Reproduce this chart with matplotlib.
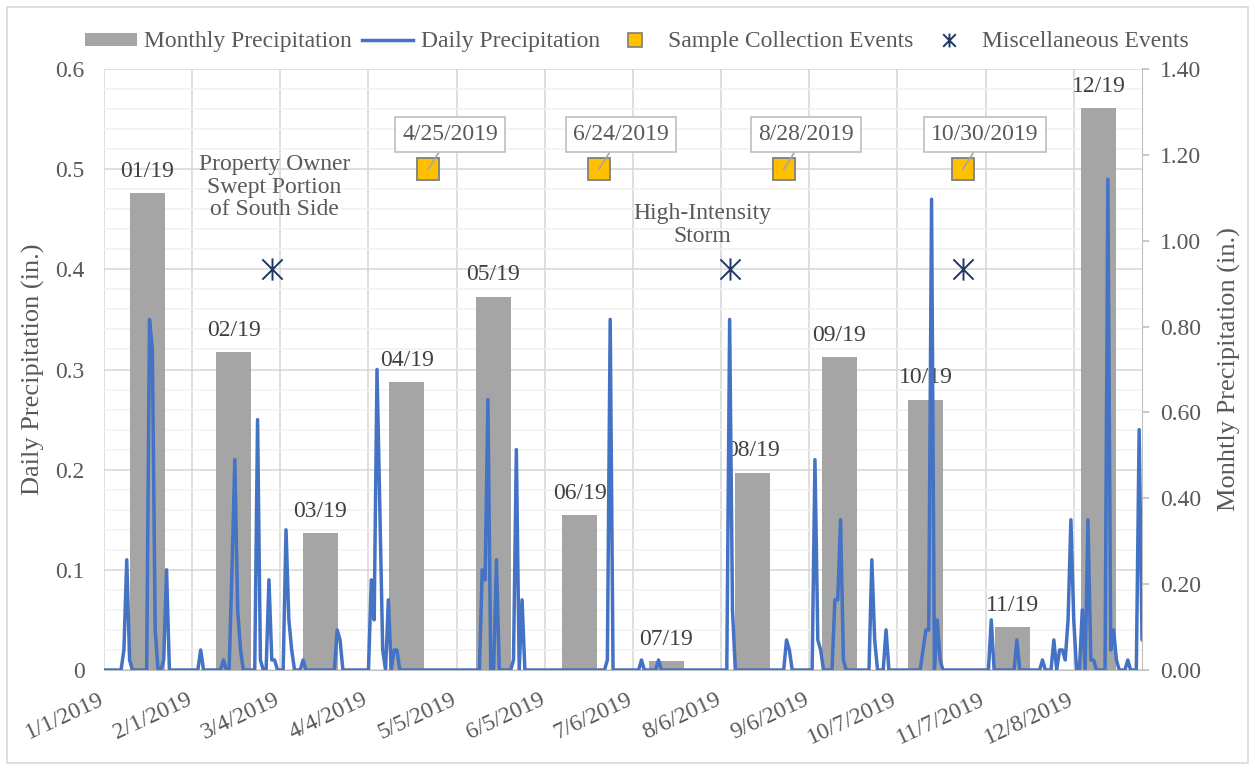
import matplotlib
matplotlib.use("Agg")
import matplotlib.pyplot as plt
from matplotlib.lines import Line2D
from matplotlib.patches import Patch, Rectangle
from matplotlib.path import Path
from matplotlib.transforms import ScaledTranslation
import numpy as np
import pandas as pd

plt.rcParams["font.family"] = ["Liberation Serif", "DejaVu Serif"]
plt.rcParams["font.size"] = 17

# monthly totals (right axis)
months = ["01/19", "02/19", "03/19", "04/19", "05/19", "06/19",
          "07/19", "08/19", "09/19", "10/19", "11/19", "12/19"]
monthly_in = [1.11, 0.74, 0.32, 0.67, 0.87, 0.36, 0.02, 0.46, 0.73, 0.63, 0.10, 1.31]

# days with rain; every other day of the record is 0.00
rain_dates = [
    "2019-01-08", "2019-01-09", "2019-01-10", "2019-01-17", "2019-01-18", "2019-01-19",
    "2019-01-22", "2019-01-23", "2019-02-04", "2019-02-12", "2019-02-15", "2019-02-16",
    "2019-02-17", "2019-02-18", "2019-02-24", "2019-02-25", "2019-02-28", "2019-03-01",
    "2019-03-02", "2019-03-06", "2019-03-07", "2019-03-08", "2019-03-12", "2019-03-24",
    "2019-03-25", "2019-04-05", "2019-04-06", "2019-04-07", "2019-04-08", "2019-04-09",
    "2019-04-11", "2019-04-13", "2019-04-14", "2019-05-14", "2019-05-15", "2019-05-16",
    "2019-05-19", "2019-05-25", "2019-05-26", "2019-05-28", "2019-06-27", "2019-06-28",
    "2019-07-09", "2019-07-15", "2019-08-09", "2019-08-10", "2019-08-29", "2019-08-30",
    "2019-09-08", "2019-09-09", "2019-09-10", "2019-09-15", "2019-09-16", "2019-09-17",
    "2019-09-18", "2019-09-28", "2019-09-29", "2019-10-03", "2019-10-16", "2019-10-17",
    "2019-10-18", "2019-10-19", "2019-10-21", "2019-10-22", "2019-11-09", "2019-11-18",
    "2019-11-27", "2019-12-01", "2019-12-03", "2019-12-04", "2019-12-05", "2019-12-06",
    "2019-12-07", "2019-12-08", "2019-12-11", "2019-12-13", "2019-12-14", "2019-12-15",
    "2019-12-20", "2019-12-21", "2019-12-22", "2019-12-23", "2019-12-27", "2019-12-31",
    "2020-01-01",
]
rain_in = [
    0.02, 0.11, 0.01, 0.35, 0.32, 0.04,
    0.01, 0.10, 0.02, 0.01, 0.10, 0.21,
    0.06, 0.02, 0.25, 0.01, 0.09, 0.01,
    0.01, 0.14, 0.05, 0.02, 0.01, 0.04,
    0.03, 0.09, 0.05, 0.30, 0.16, 0.02,
    0.07, 0.02, 0.02, 0.10, 0.09, 0.27,
    0.11, 0.01, 0.22, 0.07, 0.01, 0.35,
    0.01, 0.01, 0.35, 0.06, 0.03, 0.02,
    0.21, 0.03, 0.02, 0.07, 0.07, 0.15,
    0.01, 0.11, 0.03, 0.04, 0.02, 0.04,
    0.04, 0.47, 0.05, 0.01, 0.05, 0.03,
    0.01, 0.03, 0.02, 0.02, 0.01, 0.05,
    0.15, 0.05, 0.06, 0.15, 0.01, 0.01,
    0.49, 0.02, 0.04, 0.01, 0.01, 0.24,
    0.03,
]

sample_dates = ["2019-04-25", "2019-06-24", "2019-08-28", "2019-10-30"]
sample_level = [0.5, 0.5, 0.5, 0.5]
misc_dates = ["2019-03-01", "2019-08-09", "2019-10-30"]
misc_level = [0.4, 0.4, 0.4]
misc_notes = ["Property Owner\nSwept Portion\nof South Side", "High-Intensity\nStorm", ""]

days = pd.date_range("2019-01-01", "2020-01-01", freq="D")
daily = pd.Series(0.0, index=days)
daily[pd.to_datetime(rain_dates)] = rain_in
tick_dates = pd.date_range("2019-01-01", periods=12, freq="31D")

TXT = "#595959"
GRID = "#d9d9d9"
BLUE = "#4472c4"
BAR = "#a5a5a5"
NAVY = "#1f3864"
star = Path([(-1, -1), (1, 1), (-1, 1), (1, -1), (0, -1.1), (0, 1.1)],
            [Path.MOVETO, Path.LINETO, Path.MOVETO, Path.LINETO, Path.MOVETO, Path.LINETO])

fig = plt.figure(figsize=(12.55, 7.7), dpi=100)
fig.patches.append(Rectangle((7 / 1255, 7 / 770), 1241 / 1255, 756 / 770, transform=fig.transFigure,
                             fill=False, ec=GRID, lw=1.2))
ax = fig.add_axes([104 / 1255, 100 / 770, 1038 / 1255, 601 / 770])

# primary axes: date axis + grid
ax.set_xlim(days[0], days[-1])
ax.set_ylim(0, 0.6)
ax.set_yticks(np.arange(0, 0.61, 0.1))
ax.set_yticklabels(["0"] + [f"{v:.1f}" for v in np.arange(0.1, 0.61, 0.1)])
ax.set_yticks(np.arange(0, 0.6, 0.02), minor=True)
ax.set_xticks(tick_dates)
ax.set_xticklabels([f"{d.month}/{d.day}/{d.year}" for d in tick_dates])
ax.grid(True, which="major", color=GRID, lw=1.2)
ax.grid(True, which="minor", axis="y", color="#f2f2f2", lw=1.2)
ax.tick_params(axis="both", which="both", length=0, colors=TXT, labelsize=17)
ax.tick_params(axis="y", pad=14)
ax.tick_params(axis="x", pad=14)
shift = ScaledTranslation(-6 / 100, 0, fig.dpi_scale_trans)
for lab in ax.get_xticklabels():
    lab.set(rotation=25, ha="right", va="top", rotation_mode="anchor")
    lab.set_transform(lab.get_transform() + shift)
for s in ["top", "right", "left"]:
    ax.spines[s].set_visible(False)
ax.spines["bottom"].set_color("#bfbfbf")
ax.set_ylabel("Daily Precipitation (in.)", color=TXT, fontsize=19)
ax.yaxis.set_label_coords(-0.057, 0.5)

# secondary y axis for monthly totals
axm = ax.twinx()
axm.set_ylim(0, 1.4)
axm.set_yticks(np.arange(0, 1.41, 0.2))
axm.set_yticklabels([f"{v:.2f}" for v in np.arange(0, 1.41, 0.2)])
axm.tick_params(axis="y", length=5, width=1.2, color="#bfbfbf", labelcolor=TXT, labelsize=17, pad=8)
for s in ["top", "left", "bottom"]:
    axm.spines[s].set_visible(False)
axm.spines["right"].set_color("#bfbfbf")
axm.set_ylabel("Monhtly Precipitation (in.)", color=TXT, fontsize=19)
axm.yaxis.set_label_coords(1.0732, 0.5)

# monthly bars on their own category axis
axb = axm.twiny()
axb.set_xlim(-0.5, 11.5)
bars = axb.bar(range(len(months)), monthly_in, width=0.4, color=BAR)
axb.bar_label(bars, labels=months, padding=8, color="#404040", fontsize=17)
axb.xaxis.set_visible(False)
for s in axb.spines.values():
    s.set_visible(False)

# daily line and events on top
axl = ax.twinx()
axl.set_ylim(0, 0.6)
axl.yaxis.set_visible(False)
for s in axl.spines.values():
    s.set_visible(False)
axl.plot(daily.index, daily.values, color=BLUE, lw=2.5,
         solid_joinstyle="round", solid_capstyle="round")
sd = pd.to_datetime(sample_dates)
axl.plot(sd, sample_level, ls="none", marker="s", ms=16, mfc="#ffc000", mec="#7f7f7f", mew=1.3)
for d, v in zip(sd, sample_level):
    axl.annotate(f"{d.month}/{d.day}/{d.year}", xy=(d, v), xytext=(16, 25), textcoords="offset points",
                 ha="center", va="center", color=TXT, fontsize=17,
                 bbox=dict(boxstyle="square,pad=0.3", fc="white", ec="#bfbfbf", lw=1.2),
                 arrowprops=dict(arrowstyle="-", color="#a6a6a6", lw=1.2, shrinkA=0, shrinkB=0))
md = pd.to_datetime(misc_dates)
axl.plot(md, misc_level, ls="none", marker=star, ms=16, mec=NAVY, mew=1.4)
note_offsets = [(2, 59), (-20, 32), (0, 0)]
for d, v, note, off in zip(md, misc_level, misc_notes, note_offsets):
    if note:
        axl.annotate(note, xy=(d, v), xytext=off, textcoords="offset points",
                     ha="center", va="center", color=TXT, fontsize=17, linespacing=1.1)

handles = [Patch(fc=BAR, ec="none"),
           Line2D([], [], color=BLUE, lw=2.5),
           Line2D([], [], ls="none", marker="s", ms=10, mfc="#ffc000", mec="#7f7f7f", mew=1.2),
           Line2D([], [], ls="none", marker=star, ms=10, mec=NAVY, mew=1.4)]
labels = ["Monthly Precipitation", "Daily Precipitation", "Sample Collection Events",
          "Miscellaneous Events"]
fig.legend(handles, labels, loc="center", bbox_to_anchor=(0.5076, 0.9455), ncol=4, frameon=False,
           handlelength=2.2, handleheight=0.47, handletextpad=0.3, columnspacing=0.4,
           fontsize=17, labelcolor=TXT)

fig.savefig("out.png", dpi=100)
